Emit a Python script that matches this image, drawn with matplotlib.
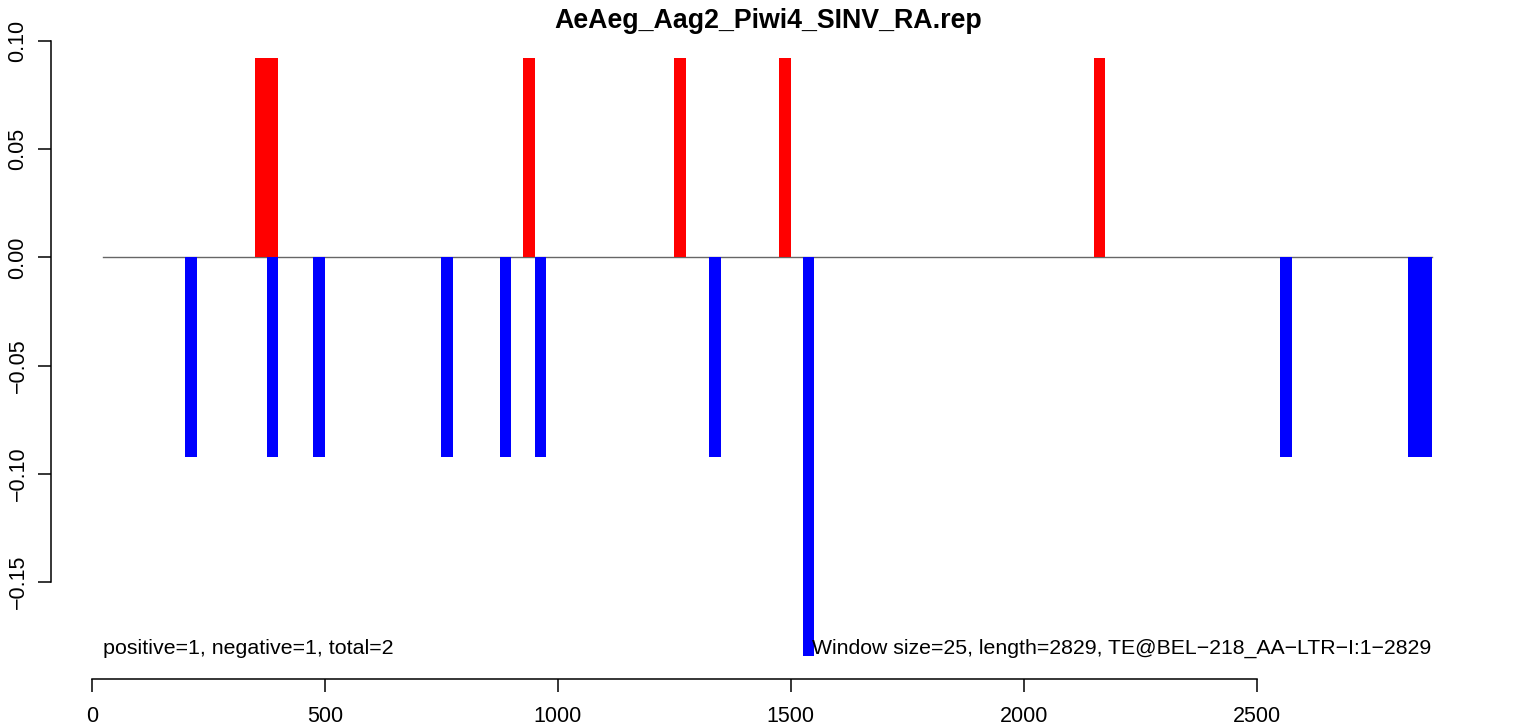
import matplotlib
matplotlib.use("Agg")
import matplotlib.pyplot as plt

plt.rcParams["font.family"] = ["Liberation Sans", "DejaVu Sans"]

title = "AeAeg_Aag2_Piwi4_SINV_RA.rep"
window = 25
# left edge of each window and its value
pos_x = [350, 375, 925, 1250, 1475, 2150]
pos_y = [0.092, 0.092, 0.092, 0.092, 0.092, 0.092]
neg_x = [200, 375, 475, 750, 875, 950, 1325, 1525, 2550, 2825, 2850]
neg_y = [-0.092, -0.092, -0.092, -0.092, -0.092, -0.092, -0.092, -0.184, -0.092, -0.092, -0.092]
line_range = [25, 2875]
x_ticks = [0, 500, 1000, 1500, 2000, 2500]
y_ticks = [-0.15, -0.10, -0.05, 0.00, 0.05, 0.10]
left_note = "positive=1, negative=1, total=2"
right_note = "Window size=25, length=2829, TE@BEL\u2212218_AA\u2212LTR\u2212I:1\u22122829"

W, H = 1533, 725
fig = plt.figure(figsize=(W / 100, H / 100), dpi=100)
# plot region in pixels (R style plot region)
px_l, px_r, px_t, px_b = 50.7, 1484.8, 34.2, 679.3
ax = fig.add_axes([px_l / W, 1 - px_b / H, (px_r - px_l) / W, (px_b - px_t) / H])

ax.plot(line_range, [0, 0], color="#666666", lw=1, zorder=1)
ax.bar(pos_x, pos_y, width=window, align="edge", color="red", linewidth=0, zorder=2)
ax.bar(neg_x, neg_y, width=window, align="edge", color="blue", linewidth=0, zorder=2)

ax.set_xlim(-88.2, 2989)
ax.set_ylim(-0.1948, 0.103)

for s in ["top", "right"]:
    ax.spines[s].set_visible(False)
ax.spines["left"].set_bounds(-0.15, 0.10)
ax.spines["bottom"].set_bounds(0, 2500)
for s in ["left", "bottom"]:
    ax.spines[s].set_linewidth(1.1)

ax.set_xticks(x_ticks)
ax.set_xticklabels([str(v) for v in x_ticks])
ax.set_yticks(y_ticks)
ax.set_yticklabels([f"{v:.2f}".replace("-", "\u2212") for v in y_ticks], rotation=90, va="center")
ax.tick_params(axis="both", length=9.4, width=1.1, labelsize=15.5, direction="out")
ax.tick_params(axis="x", pad=10)
ax.tick_params(axis="y", pad=6.5)

ax.set_title(title, fontsize=19.3, fontweight="bold", pad=3)

ax.text(25, -0.1805, left_note, ha="left", va="center", fontsize=15.4)
ax.text(2875, -0.1805, right_note, ha="right", va="center", fontsize=15.3)

fig.savefig("out.png", dpi=100)
